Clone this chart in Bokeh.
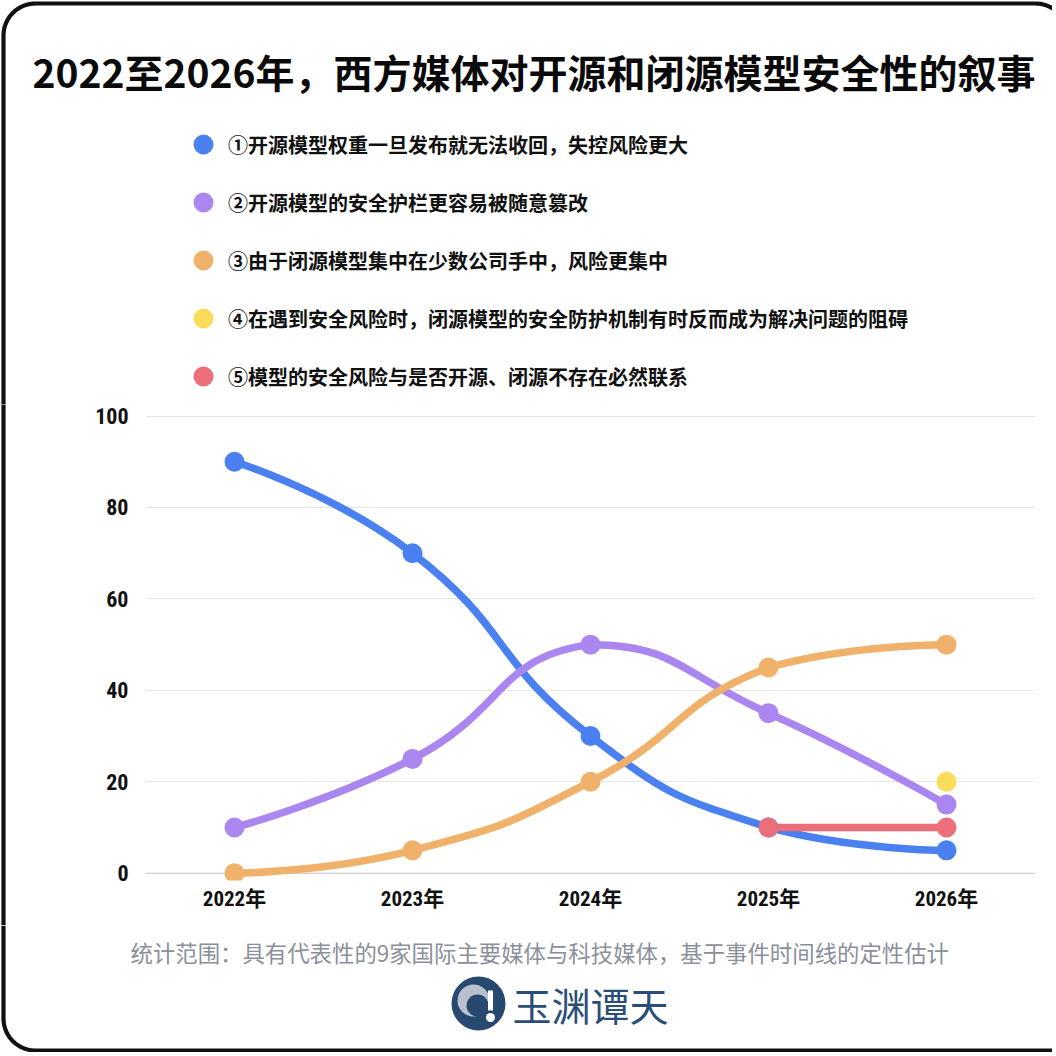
import math
import numpy as np
from bokeh.plotting import figure
from bokeh.layouts import column, row
from bokeh.models import Range1d, FixedTicker, Legend, LegendItem, Label, Span
from bokeh.embed import file_html
from bokeh.resources import INLINE

# ---------------- data ----------------
years = ["2022年", "2023年", "2024年", "2025年", "2026年"]
x_idx = [0, 1, 2, 3, 4]
s1 = [90, 70, 30, 10, 5]
s2 = [10, 25, 50, 35, 15]
s3 = [0, 5, 20, 45, 50]
s4 = [None, None, None, None, 20]
s5 = [None, None, None, 10, 10]
series = [s1, s2, s3, s4, s5]
names = [
    "①开源模型权重一旦发布就无法收回，失控风险更大",
    "②开源模型的安全护栏更容易被随意篡改",
    "③由于闭源模型集中在少数公司手中，风险更集中",
    "④在遇到安全风险时，闭源模型的安全防护机制有时反而成为解决问题的阻碍",
    "⑤模型的安全风险与是否开源、闭源不存在必然联系",
]
colors = ["#4A80F0", "#AA87F0", "#F0B26A", "#FADC5A", "#EC6E78"]
y_ticks = [0, 20, 40, 60, 80, 100]
title_text = "2022至2026年，西方媒体对开源和闭源模型安全性的叙事"
note_text = "统计范围：具有代表性的9家国际主要媒体与科技媒体，基于事件时间线的定性估计"
logo_text = "玉渊谭天"

CJK = "'Noto Sans CJK SC', sans-serif"
NARROW = ("'Roboto Condensed', 'Liberation Sans Narrow', 'DejaVu Sans Condensed', "
          "'Noto Sans CJK SC', sans-serif")
BORDER = "#111111"
BW = 4.2
RAD = 32
BX = 3          # centre of the left border line

W = 1052
HEAD_H = 404
MID_TOP, MID_BOT = 404, 925
FOOT_H = 1052 - MID_BOT
STRIP_W = 20
FRAME_L, FRAME_R, FRAME_T, FRAME_B = 145, 1035, 411, 880


def blank(width, height, x0, x1, y_top, y_bot):
    f = figure(width=width, height=height, x_range=Range1d(x0, x1), y_range=Range1d(y_bot, y_top),
               output_backend="svg", toolbar_location=None, x_axis_type=None, y_axis_type=None,
               min_border=0, min_border_left=0, min_border_right=0, min_border_top=0, min_border_bottom=0)
    f.outline_line_color = None
    f.background_fill_color = "white"
    f.border_fill_color = "white"
    return f


def arc(cx, cy, sx, sy, n=40):
    t = np.linspace(0, math.pi / 2, n)
    return list(cx + sx * RAD * np.cos(t)), list(cy + sy * RAD * np.sin(t))


# ---------------- header: card border, title, legend ----------------
head = blank(W, HEAD_H, 0, W, 0, HEAD_H)
ax_, ay_ = arc(BX + RAD, BX + RAD, -1, -1)
bx_, by_ = arc(1035, BX + RAD, 1, -1)
hx = [BX] + ax_ + list(reversed(bx_))
hy = [HEAD_H] + ay_ + list(reversed(by_))
keep = [i for i, v in enumerate(hx) if v <= W + 2]
head.line([hx[i] for i in keep], [hy[i] for i in keep], line_color=BORDER, line_width=BW)

head.add_layout(Label(x=32, y=70, text=title_text, text_font=CJK,
                      text_font_style="bold", text_font_size="39px", text_color="#0A0A0A",
                      text_baseline="middle", text_align="left"))

dummies = [head.scatter(x=[np.nan], y=[np.nan], size=20, fill_color=c, line_color=c, line_width=0)
           for c in colors]
legend = Legend(items=[LegendItem(label=n, renderers=[r]) for n, r in zip(names, dummies)],
                location=(178, 0), orientation="vertical",
                glyph_width=50, glyph_height=56, spacing=2, padding=0, margin=0,
                label_standoff=0, border_line_color=None, background_fill_alpha=0,
                label_text_font=CJK, label_text_font_style="bold",
                label_text_font_size="20px", label_text_color="#111111",
                label_text_baseline="middle")
head.add_layout(legend, "center")

# ---------------- left strip of the card border ----------------
strip = blank(STRIP_W, MID_BOT - MID_TOP, 0, STRIP_W, MID_TOP, MID_BOT)
strip.line([BX, BX], [MID_TOP - 50, MID_BOT + 50], line_color=BORDER, line_width=BW)

# ---------------- main chart ----------------
p = figure(width=W - STRIP_W, height=MID_BOT - MID_TOP, x_range=Range1d(-0.5, 4.5),
           y_range=Range1d(-1.6, 101), output_backend="svg", toolbar_location=None,
           min_border_left=FRAME_L - STRIP_W, min_border_right=W - FRAME_R,
           min_border_top=FRAME_T - MID_TOP, min_border_bottom=MID_BOT - FRAME_B)
p.outline_line_color = None
p.background_fill_color = "white"
p.border_fill_color = "white"
p.xaxis.ticker = FixedTicker(ticks=x_idx)
p.xaxis.major_label_overrides = {i: y for i, y in zip(x_idx, years)}
p.yaxis.ticker = FixedTicker(ticks=y_ticks)
for axis in (p.xaxis, p.yaxis):
    axis.axis_line_color = None
    axis.major_tick_line_color = None
    axis.minor_tick_line_color = None
    axis.major_label_text_font = NARROW
    axis.major_label_text_font_style = "bold"
    axis.major_label_text_color = "#111111"
p.xaxis.major_label_text_font_size = "21px"
p.yaxis.major_label_text_font_size = "22px"
p.xaxis.major_label_standoff = 0
p.yaxis.major_label_standoff = 11
p.xgrid.visible = False
p.ygrid.grid_line_color = "#E6E6E6"
p.ygrid.grid_line_width = 1
p.add_layout(Span(location=0, dimension="width", line_color="#CCCCCC", line_width=1, level="underlay"))

KX, KY = 178.0, 4.571
SMOOTH = 0.5


def bezier_segments(xs, ys):
    P = [(x * KX, y * KY) for x, y in zip(xs, ys)]
    n = len(P)
    segs = []
    cp0 = P[0]
    for i in range(1, n):
        x, y = P[i]
        qx, qy = P[i - 1]
        if i == n - 1:
            cp1 = (x, y)
            ncp0 = None
        else:
            nx, ny = P[i + 1]
            vx, vy = nx - qx, ny - qy
            lp = math.hypot(x - qx, y - qy)
            ln = math.hypot(nx - x, ny - y)
            r = ln / (ln + lp)
            c1x = x - vx * SMOOTH * (1 - r)
            c1y = y - vy * SMOOTH * (1 - r)
            n0x = x + vx * SMOOTH * r
            n0y = y + vy * SMOOTH * r
            n0x = min(n0x, max(nx, x)); n0x = max(n0x, min(nx, x))
            n0y = min(n0y, max(ny, y)); n0y = max(n0y, min(ny, y))
            c1x = min(c1x, max(qx, x)); c1x = max(c1x, min(qx, x))
            c1y = min(c1y, max(qy, y)); c1y = max(c1y, min(qy, y))
            cp1 = (c1x, c1y)
            ncp0 = (n0x, n0y)
        segs.append((qx, qy, cp0[0], cp0[1], cp1[0], cp1[1], x, y))
        cp0 = ncp0
    x0, y0, cx0, cy0, cx1, cy1, x1, y1 = list(zip(*segs))
    f = lambda a, k: [v / k for v in a]
    return dict(x0=f(x0, KX), y0=f(y0, KY), cx0=f(cx0, KX), cy0=f(cy0, KY),
                cx1=f(cx1, KX), cy1=f(cy1, KY), x1=f(x1, KX), y1=f(y1, KY))


valid = []
for s in series:
    xs = [x for x, v in zip(x_idx, s) if v is not None]
    ys = [v for v in s if v is not None]
    valid.append((xs, ys))

for (xs, ys), c in zip(valid, colors):
    if len(xs) >= 2:
        p.bezier(line_color=c, line_width=7.5, line_cap="round", **bezier_segments(xs, ys))
for (xs, ys), c in zip(valid, colors):
    p.scatter(xs, ys, size=20, fill_color=c, line_color=c, line_width=0)

# ---------------- footer: note, logo, card border ----------------
foot = blank(W, FOOT_H, 0, W, 0, FOOT_H)
BOT = 1050 - MID_BOT
cx_, cy_ = arc(BX + RAD, BOT - RAD, -1, 1)
foot.line([BX] + cx_ + [W], [0] + cy_ + [BOT], line_color=BORDER, line_width=BW)

foot.add_layout(Label(x=130, y=951 - MID_BOT, text=note_text, text_font=CJK, text_font_size="22.4px",
                      text_color="#8A8F9B", text_baseline="middle", text_align="left"))
foot.add_layout(Label(x=512, y=1003 - MID_BOT, text=logo_text, text_font=CJK, text_font_size="39px",
                      text_color="#2A4E78", text_baseline="middle", text_align="left"))
ly = 1003 - MID_BOT
foot.scatter([478], [ly], size=54, fill_color="#27496F", line_color=None)
foot.scatter([473], [ly - 3], size=32, fill_color="#B9C1CE", line_color=None)
foot.scatter([477], [ly + 2], size=22, fill_color="#27496F", line_color=None)
foot.segment([490], [ly - 13], [490], [ly + 7], line_color="white", line_width=5)
foot.scatter([490], [ly + 14], size=9, fill_color="white", line_color=None)

layout = column(head, row(strip, column(p)), foot)
open("out.html", "w").write(file_html(layout, INLINE))
